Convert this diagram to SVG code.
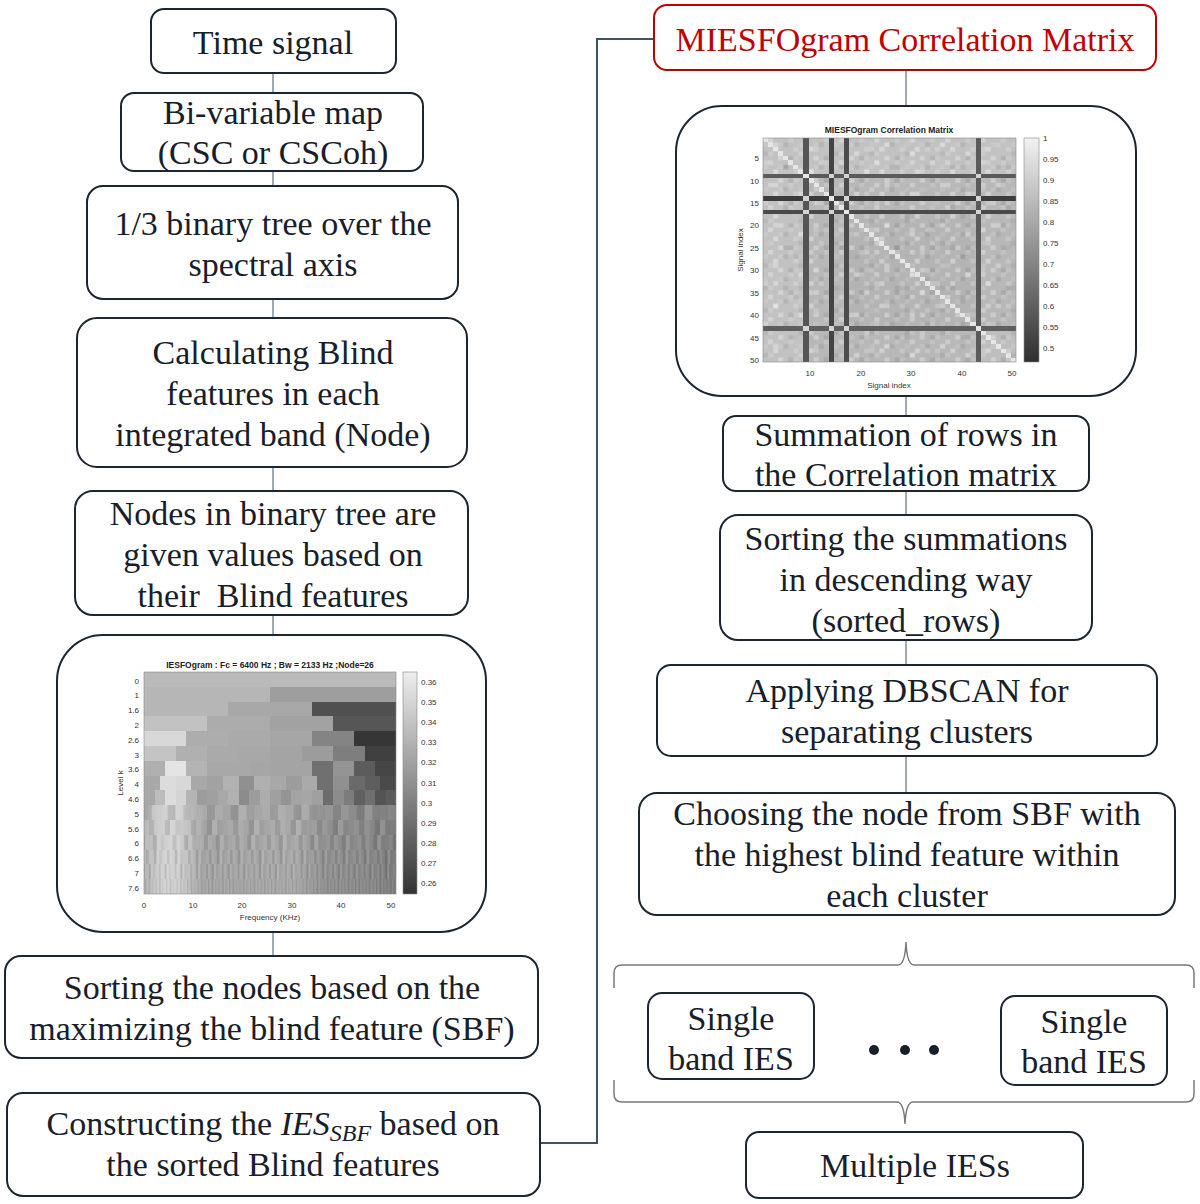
<svg xmlns="http://www.w3.org/2000/svg" width="1200" height="1204" viewBox="0 0 1200 1204">
<style>
.box{fill:#fff;stroke:#1b2631;stroke-width:2}
.t{font-family:"Liberation Serif","Times New Roman",serif;font-size:34px;fill:#17202a;text-anchor:middle}
.red{fill:#c00000}
.conn{stroke:#7f909c;stroke-width:1.5;fill:none}
.ax{font-family:"Liberation Sans",Arial,sans-serif;font-size:8px;fill:#333}
.axm{font-family:"Liberation Sans",Arial,sans-serif;font-size:8px;fill:#333;text-anchor:middle}
.axe{font-family:"Liberation Sans",Arial,sans-serif;font-size:8px;fill:#333;text-anchor:end}
.ttl{font-family:"Liberation Sans",Arial,sans-serif;font-size:8.5px;font-weight:bold;fill:#222;text-anchor:middle}
.frame{fill:none;stroke:#888;stroke-width:0.6}
.brace{fill:none;stroke:#7a7a7a;stroke-width:1.5}
</style>
<defs>
<linearGradient id="iesLow" x1="0" y1="0" x2="1" y2="0">
<stop offset="0" stop-color="#b0b0b0"/><stop offset="0.03" stop-color="#c0c0c0"/><stop offset="0.08" stop-color="#d2d2d2"/><stop offset="0.14" stop-color="#cecece"/><stop offset="0.19" stop-color="#b8b8b8"/><stop offset="0.24" stop-color="#a4a4a4"/><stop offset="0.45" stop-color="#a6a6a6"/><stop offset="0.6" stop-color="#a8a8a8"/><stop offset="0.66" stop-color="#9c9c9c"/><stop offset="0.72" stop-color="#909090"/><stop offset="0.82" stop-color="#8c8c8c"/><stop offset="0.9" stop-color="#888888"/><stop offset="1" stop-color="#7c7c7c"/>
</linearGradient>
<linearGradient id="cbIes" x1="0" y1="0" x2="0" y2="1"><stop offset="0" stop-color="#eeeeee"/><stop offset="1" stop-color="#333333"/></linearGradient>
<linearGradient id="cbCor" x1="0" y1="0" x2="0" y2="1"><stop offset="0" stop-color="#f2f2f2"/><stop offset="1" stop-color="#2e2e2e"/></linearGradient>
<pattern id="st" patternUnits="userSpaceOnUse" width="40" height="14.8">
<rect x="0" y="0" width="5" height="14.8" fill="#000" opacity="0.07"/>
<rect x="5" y="0" width="5" height="14.8" fill="#fff" opacity="0.08"/>
<rect x="15" y="0" width="5" height="14.8" fill="#000" opacity="0.11"/>
<rect x="20" y="0" width="5" height="14.8" fill="#fff" opacity="0.12"/>
<rect x="25" y="0" width="5" height="14.8" fill="#000" opacity="0.04"/>
<rect x="35" y="0" width="5" height="14.8" fill="#fff" opacity="0.06"/>
</pattern>
<pattern id="st9" href="#st" patternTransform="translate(144,805.2) scale(1.575,1)"/>
<pattern id="st10" href="#st" patternTransform="translate(149,820) scale(1.05,1)"/>
<pattern id="st11" href="#st" patternTransform="translate(141,834.8) scale(0.7875,1)"/>
<pattern id="st12" href="#st" patternTransform="translate(146,849.6) scale(0.525,1)"/>
<pattern id="st13" href="#st" patternTransform="translate(143,864.4) scale(0.394,1)"/>
<pattern id="st14" href="#st" patternTransform="translate(145,879.2) scale(0.2625,1)"/>
<pattern id="nz" patternUnits="userSpaceOnUse" x="763" y="138" width="35.42" height="22.4">
<rect x="5.06" y="0" width="5.06" height="4.48" fill="#fff" opacity="0.3"/>
<rect x="25.3" y="0" width="5.06" height="4.48" fill="#fff" opacity="0.15"/>
<rect x="20.24" y="4.48" width="5.06" height="4.48" fill="#000" opacity="0.07"/>
<rect x="0" y="4.48" width="5.06" height="4.48" fill="#fff" opacity="0.1"/>
<rect x="15.18" y="4.48" width="5.06" height="4.48" fill="#fff" opacity="0.12"/>
<rect x="10.12" y="8.96" width="5.06" height="4.48" fill="#fff" opacity="0.35"/>
<rect x="30.36" y="8.96" width="5.06" height="4.48" fill="#fff" opacity="0.2"/>
<rect x="0" y="13.44" width="5.06" height="4.48" fill="#000" opacity="0.06"/>
<rect x="5.06" y="13.44" width="5.06" height="4.48" fill="#fff" opacity="0.15"/>
<rect x="15.18" y="17.92" width="5.06" height="4.48" fill="#fff" opacity="0.3"/>
<rect x="25.3" y="17.92" width="5.06" height="4.48" fill="#000" opacity="0.08"/>
<rect x="30.36" y="17.92" width="5.06" height="4.48" fill="#fff" opacity="0.12"/>
</pattern>
<pattern id="nz2" patternUnits="userSpaceOnUse" x="763" y="138" width="55.66" height="40.32">
<rect x="10.12" y="4.48" width="5.06" height="4.48" fill="#fff" opacity="0.3"/>
<rect x="35.42" y="13.44" width="5.06" height="4.48" fill="#fff" opacity="0.35"/>
<rect x="20.24" y="26.88" width="5.06" height="4.48" fill="#000" opacity="0.08"/>
<rect x="45.54" y="31.36" width="5.06" height="4.48" fill="#fff" opacity="0.25"/>
<rect x="0" y="22.4" width="5.06" height="4.48" fill="#fff" opacity="0.2"/>
<rect x="30.36" y="35.84" width="5.06" height="4.48" fill="#000" opacity="0.06"/>
<rect x="50.6" y="8.96" width="5.06" height="4.48" fill="#fff" opacity="0.18"/>
</pattern>
</defs>
<rect width="1200" height="1204" fill="#fff"/>

<g id="connectors">
<path class="conn" d="M273,73V93M273,171V186M273,299V318M273,467V491M273,615V635M273,932V956"/>
<path class="conn" d="M906,70V106M906,396V416M906,491V515M906,640V665M906,756V793"/>
<path d="M540,1143H597V39H654" fill="none" stroke="#3d5262" stroke-width="2"/>
<path class="brace" d="M614,988V973Q614,965 622,965H898Q905,965 906,942Q907,965 914,965H1186Q1194,965 1194,973V988"/>
<path class="brace" d="M614,1080V1094Q614,1102 622,1102H897Q904,1102 905,1124Q906,1102 913,1102H1186Q1194,1102 1194,1094V1080"/>
</g>

<g id="n-time"><rect class="box" x="151" y="9" width="245" height="64" rx="13"/><text class="t" x="273" y="54">Time signal</text></g>
<g id="n-bivar"><rect class="box" x="121" y="93" width="302" height="78" rx="13"/><text class="t" x="273" y="124">Bi-variable map</text><text class="t" x="273" y="164">(CSC or CSCoh)</text></g>
<g id="n-tree"><rect class="box" x="87" y="186" width="371" height="113" rx="16"/><text class="t" x="273" y="235">1/3 binary tree over the</text><text class="t" x="273" y="276">spectral axis</text></g>
<g id="n-calc"><rect class="box" x="77" y="318" width="390" height="149" rx="20"/><text class="t" x="273" y="364">Calculating Blind</text><text class="t" x="273" y="405">features in each</text><text class="t" x="273" y="446">integrated band (Node)</text></g>
<g id="n-nodes"><rect class="box" x="75" y="491" width="393" height="124" rx="18"/><text class="t" x="273" y="525">Nodes in binary tree are</text><text class="t" x="273" y="566">given values based on</text><text class="t" x="273" y="607" xml:space="preserve">their  Blind features</text></g>

<g id="n-iesfogram">
<rect class="box" x="57" y="635" width="429" height="297" rx="46"/>
<text class="ttl" x="270" y="668">IESFOgram : Fc = 6400 Hz ; Bw = 2133 Hz ;Node=26</text>
<g shape-rendering="crispEdges">
<rect x="144" y="672" width="252" height="15" fill="#bababa"/>
<rect x="144" y="686.8" width="126.3" height="15" fill="#b6b6b6"/><rect x="270" y="686.8" width="126" height="15" fill="#9e9e9e"/>
<rect x="144" y="701.6" width="84.3" height="15" fill="#b6b6b6"/><rect x="228" y="701.6" width="84.3" height="15" fill="#a8a8a8"/><rect x="312" y="701.6" width="84" height="15" fill="#505050"/>
<rect x="144" y="716.4" width="63.3" height="15" fill="#c2c2c2"/><rect x="207" y="716.4" width="63.3" height="15" fill="#acacac"/><rect x="270" y="716.4" width="63.3" height="15" fill="#a2a2a2"/><rect x="333" y="716.4" width="63" height="15" fill="#565656"/>
<rect x="144" y="731.2" width="42.3" height="15" fill="#d8d8d8"/><rect x="186" y="731.2" width="42.3" height="15" fill="#adadad"/><rect x="228" y="731.2" width="42.3" height="15" fill="#aaaaaa"/><rect x="270" y="731.2" width="42.3" height="15" fill="#a6a6a6"/><rect x="312" y="731.2" width="42.3" height="15" fill="#848484"/><rect x="354" y="731.2" width="42" height="15" fill="#363636"/>
<rect x="144" y="746" width="31.8" height="15" fill="#c4c4c4"/><rect x="175.5" y="746" width="31.8" height="15" fill="#b0b0b0"/><rect x="207" y="746" width="31.8" height="15" fill="#aaaaaa"/><rect x="238.5" y="746" width="31.8" height="15" fill="#a8a8a8"/><rect x="270" y="746" width="31.8" height="15" fill="#a4a4a4"/><rect x="301.5" y="746" width="31.8" height="15" fill="#9c9c9c"/><rect x="333" y="746" width="31.8" height="15" fill="#7e7e7e"/><rect x="364.5" y="746" width="31.5" height="15" fill="#404040"/>
<rect x="144" y="760.8" width="21.3" height="15" fill="#b0b0b0"/><rect x="165" y="760.8" width="21.3" height="15" fill="#e4e4e4"/><rect x="186" y="760.8" width="21.3" height="15" fill="#b4b4b4"/><rect x="207" y="760.8" width="21.3" height="15" fill="#a8a8a8"/><rect x="228" y="760.8" width="21.3" height="15" fill="#a8a8a8"/><rect x="249" y="760.8" width="21.3" height="15" fill="#a6a6a6"/><rect x="270" y="760.8" width="21.3" height="15" fill="#a4a4a4"/><rect x="291" y="760.8" width="21.3" height="15" fill="#a4a4a4"/><rect x="312" y="760.8" width="21.3" height="15" fill="#707070"/><rect x="333" y="760.8" width="21.3" height="15" fill="#949494"/><rect x="354" y="760.8" width="21.3" height="15" fill="#5c5c5c"/><rect x="375" y="760.8" width="21" height="15" fill="#464646"/>
<rect x="144" y="775.6" width="16" height="15" fill="#a8a8a8"/><rect x="159.75" y="775.6" width="16" height="15" fill="#dcdcdc"/><rect x="175.5" y="775.6" width="16" height="15" fill="#d8d8d8"/><rect x="191.25" y="775.6" width="16" height="15" fill="#a8a8a8"/><rect x="207" y="775.6" width="16" height="15" fill="#a2a2a2"/><rect x="222.75" y="775.6" width="16" height="15" fill="#b2b2b2"/><rect x="238.5" y="775.6" width="16" height="15" fill="#909090"/><rect x="254.25" y="775.6" width="16" height="15" fill="#b0b0b0"/><rect x="270" y="775.6" width="16" height="15" fill="#a8a8a8"/><rect x="285.75" y="775.6" width="16" height="15" fill="#9c9c9c"/><rect x="301.5" y="775.6" width="16" height="15" fill="#aaaaaa"/><rect x="317.25" y="775.6" width="16" height="15" fill="#707070"/><rect x="333" y="775.6" width="16" height="15" fill="#909090"/><rect x="348.75" y="775.6" width="16" height="15" fill="#6a6a6a"/><rect x="364.5" y="775.6" width="16" height="15" fill="#5e5e5e"/><rect x="380.25" y="775.6" width="15.75" height="15" fill="#4a4a4a"/>
<rect x="144" y="790.4" width="10.8" height="15" fill="#a8a8a8"/><rect x="154.5" y="790.4" width="10.8" height="15" fill="#bcbcbc"/><rect x="165" y="790.4" width="10.8" height="15" fill="#dcdcdc"/><rect x="175.5" y="790.4" width="10.8" height="15" fill="#d4d4d4"/><rect x="186" y="790.4" width="10.8" height="15" fill="#b4b4b4"/><rect x="196.5" y="790.4" width="10.8" height="15" fill="#9c9c9c"/><rect x="207" y="790.4" width="10.8" height="15" fill="#a0a0a0"/><rect x="217.5" y="790.4" width="10.8" height="15" fill="#a8a8a8"/><rect x="228" y="790.4" width="10.8" height="15" fill="#b0b0b0"/><rect x="238.5" y="790.4" width="10.8" height="15" fill="#8c8c8c"/><rect x="249" y="790.4" width="10.8" height="15" fill="#9c9c9c"/><rect x="259.5" y="790.4" width="10.8" height="15" fill="#acacac"/><rect x="270" y="790.4" width="10.8" height="15" fill="#a0a0a0"/><rect x="280.5" y="790.4" width="10.8" height="15" fill="#949494"/><rect x="291" y="790.4" width="10.8" height="15" fill="#a4a4a4"/><rect x="301.5" y="790.4" width="10.8" height="15" fill="#a6a6a6"/><rect x="312" y="790.4" width="10.8" height="15" fill="#a0a0a0"/><rect x="322.5" y="790.4" width="10.8" height="15" fill="#6c6c6c"/><rect x="333" y="790.4" width="10.8" height="15" fill="#8c8c8c"/><rect x="343.5" y="790.4" width="10.8" height="15" fill="#7c7c7c"/><rect x="354" y="790.4" width="10.8" height="15" fill="#606060"/><rect x="364.5" y="790.4" width="10.8" height="15" fill="#707070"/><rect x="375" y="790.4" width="10.8" height="15" fill="#545454"/><rect x="385.5" y="790.4" width="10.5" height="15" fill="#5c5c5c"/>
<rect x="144" y="805.2" width="252" height="88.8" fill="url(#iesLow)"/>
<rect x="144" y="805.2" width="252" height="14.8" fill="url(#st9)"/>
<rect x="144" y="820" width="252" height="14.8" fill="url(#st10)"/>
<rect x="144" y="834.8" width="252" height="14.8" fill="url(#st11)"/>
<rect x="144" y="849.6" width="252" height="14.8" fill="url(#st12)"/>
<rect x="144" y="864.4" width="252" height="14.8" fill="url(#st13)"/>
<rect x="144" y="879.2" width="252" height="14.8" fill="url(#st14)"/>
</g>
<rect class="frame" x="144" y="672" width="252" height="222"/>
<rect x="403" y="672" width="14" height="222" fill="url(#cbIes)"/>
<rect class="frame" x="403" y="672" width="14" height="222"/>
<text class="axe" x="139" y="683.5">0</text><text class="axe" x="139" y="698.3">1</text><text class="axe" x="139" y="713.1">1.6</text><text class="axe" x="139" y="727.9">2</text><text class="axe" x="139" y="742.7">2.6</text><text class="axe" x="139" y="757.5">3</text><text class="axe" x="139" y="772.3">3.6</text><text class="axe" x="139" y="787.1">4</text><text class="axe" x="139" y="801.9">4.6</text><text class="axe" x="139" y="816.7">5</text><text class="axe" x="139" y="831.5">5.6</text><text class="axe" x="139" y="846.3">6</text><text class="axe" x="139" y="861.1">6.6</text><text class="axe" x="139" y="875.9">7</text><text class="axe" x="139" y="890.7">7.6</text>
<text class="axm" transform="translate(123,783) rotate(-90)">Level k</text>
<text class="axm" x="144" y="908">0</text><text class="axm" x="193" y="908">10</text><text class="axm" x="242" y="908">20</text><text class="axm" x="292" y="908">30</text><text class="axm" x="341" y="908">40</text><text class="axm" x="391" y="908">50</text>
<text class="axm" x="270" y="920">Frequency (KHz)</text>
<text class="ax" x="421" y="685">0.36</text><text class="ax" x="421" y="705">0.35</text><text class="ax" x="421" y="725">0.34</text><text class="ax" x="421" y="745">0.33</text><text class="ax" x="421" y="765">0.32</text><text class="ax" x="421" y="786">0.31</text><text class="ax" x="421" y="806">0.3</text><text class="ax" x="421" y="826">0.29</text><text class="ax" x="421" y="846">0.28</text><text class="ax" x="421" y="866">0.27</text><text class="ax" x="421" y="886">0.26</text>
</g>

<g id="n-sbf"><rect class="box" x="5" y="956" width="533" height="102" rx="16"/><text class="t" x="272" y="999">Sorting the nodes based on the</text><text class="t" x="272" y="1040">maximizing the blind feature (SBF)</text></g>
<g id="n-construct"><rect class="box" x="7" y="1093" width="533" height="103" rx="16"/><text class="t" x="273" y="1135">Constructing the <tspan font-style="italic">IES</tspan><tspan font-style="italic" font-size="24" dy="6">SBF</tspan><tspan dy="-6"> based on</tspan></text><text class="t" x="273" y="1176">the sorted Blind features</text></g>

<g id="n-miesfo"><rect class="box" x="654" y="5" width="502" height="65" rx="13" style="stroke:#c00000"/><text class="t red" x="905" y="51">MIESFOgram Correlation Matrix</text></g>

<g id="n-corr">
<rect class="box" x="676" y="106" width="460" height="290" rx="46"/>
<text class="ttl" x="889" y="133">MIESFOgram Correlation Matrix</text>
<g shape-rendering="crispEdges">
<rect x="763" y="138" width="253" height="224" fill="#b8b8b8"/>
<rect x="763" y="138" width="40.5" height="224" fill="#c2c2c2"/>
<rect x="763" y="138" width="253" height="35.8" fill="#c2c2c2"/>
<rect x="848.5" y="214" width="127" height="112" fill="#b4b4b4"/>
<rect x="980" y="330" width="36" height="32" fill="#bebebe"/>
<rect x="763" y="138" width="253" height="224" fill="url(#nz)"/>
<rect x="763" y="138" width="253" height="224" fill="url(#nz2)"/>
<rect x="763" y="173.84" width="253" height="4.48" fill="#5a5a5a"/>
<rect x="763" y="196.24" width="253" height="4.48" fill="#3c3c3c"/>
<rect x="763" y="209.68" width="253" height="4.48" fill="#4a4a4a"/>
<rect x="763" y="326.16" width="253" height="4.48" fill="#5e5e5e"/>
<rect x="803.48" y="138" width="5.06" height="224" fill="#555555"/>
<rect x="828.78" y="138" width="5.06" height="224" fill="#444444"/>
<rect x="843.96" y="138" width="5.06" height="224" fill="#4c4c4c"/>
<rect x="975.52" y="138" width="5.06" height="224" fill="#5a5a5a"/>
<g fill="#d4d4d4">
<rect x="803.48" y="173.84" width="5.06" height="4.48"/><rect x="828.78" y="173.84" width="5.06" height="4.48"/><rect x="843.96" y="173.84" width="5.06" height="4.48"/><rect x="975.52" y="173.84" width="5.06" height="4.48"/>
<rect x="803.48" y="196.24" width="5.06" height="4.48"/><rect x="828.78" y="196.24" width="5.06" height="4.48"/><rect x="843.96" y="196.24" width="5.06" height="4.48"/><rect x="975.52" y="196.24" width="5.06" height="4.48"/>
<rect x="803.48" y="209.68" width="5.06" height="4.48"/><rect x="828.78" y="209.68" width="5.06" height="4.48"/><rect x="843.96" y="209.68" width="5.06" height="4.48"/><rect x="975.52" y="209.68" width="5.06" height="4.48"/>
<rect x="803.48" y="326.16" width="5.06" height="4.48"/><rect x="828.78" y="326.16" width="5.06" height="4.48"/><rect x="843.96" y="326.16" width="5.06" height="4.48"/><rect x="975.52" y="326.16" width="5.06" height="4.48"/>
</g>
<path fill="#e6e6e6" d="M763,138h5.06v4.48h-5.06z m5.06,4.48h5.06v4.48h-5.06z m5.06,4.48h5.06v4.48h-5.06z m5.06,4.48h5.06v4.48h-5.06z m5.06,4.48h5.06v4.48h-5.06z m5.06,4.48h5.06v4.48h-5.06z m5.06,4.48h5.06v4.48h-5.06z m5.06,4.48h5.06v4.48h-5.06z m5.06,4.48h5.06v4.48h-5.06z m5.06,4.48h5.06v4.48h-5.06z m5.06,4.48h5.06v4.48h-5.06z m5.06,4.48h5.06v4.48h-5.06z m5.06,4.48h5.06v4.48h-5.06z m5.06,4.48h5.06v4.48h-5.06z m5.06,4.48h5.06v4.48h-5.06z m5.06,4.48h5.06v4.48h-5.06z m5.06,4.48h5.06v4.48h-5.06z m5.06,4.48h5.06v4.48h-5.06z m5.06,4.48h5.06v4.48h-5.06z m5.06,4.48h5.06v4.48h-5.06z m5.06,4.48h5.06v4.48h-5.06z m5.06,4.48h5.06v4.48h-5.06z m5.06,4.48h5.06v4.48h-5.06z m5.06,4.48h5.06v4.48h-5.06z m5.06,4.48h5.06v4.48h-5.06z m5.06,4.48h5.06v4.48h-5.06z m5.06,4.48h5.06v4.48h-5.06z m5.06,4.48h5.06v4.48h-5.06z m5.06,4.48h5.06v4.48h-5.06z m5.06,4.48h5.06v4.48h-5.06z m5.06,4.48h5.06v4.48h-5.06z m5.06,4.48h5.06v4.48h-5.06z m5.06,4.48h5.06v4.48h-5.06z m5.06,4.48h5.06v4.48h-5.06z m5.06,4.48h5.06v4.48h-5.06z m5.06,4.48h5.06v4.48h-5.06z m5.06,4.48h5.06v4.48h-5.06z m5.06,4.48h5.06v4.48h-5.06z m5.06,4.48h5.06v4.48h-5.06z m5.06,4.48h5.06v4.48h-5.06z m5.06,4.48h5.06v4.48h-5.06z m5.06,4.48h5.06v4.48h-5.06z m5.06,4.48h5.06v4.48h-5.06z m5.06,4.48h5.06v4.48h-5.06z m5.06,4.48h5.06v4.48h-5.06z m5.06,4.48h5.06v4.48h-5.06z m5.06,4.48h5.06v4.48h-5.06z m5.06,4.48h5.06v4.48h-5.06z m5.06,4.48h5.06v4.48h-5.06z m5.06,4.48h5.06v4.48h-5.06z"/>
</g>
<rect class="frame" x="763" y="138" width="253" height="224"/>
<rect x="1024" y="138" width="15" height="224" fill="url(#cbCor)"/>
<rect class="frame" x="1024" y="138" width="15" height="224"/>
<text class="axe" x="759" y="161">5</text><text class="axe" x="759" y="183.5">10</text><text class="axe" x="759" y="206">15</text><text class="axe" x="759" y="228">20</text><text class="axe" x="759" y="251">25</text><text class="axe" x="759" y="273">30</text><text class="axe" x="759" y="296">35</text><text class="axe" x="759" y="318">40</text><text class="axe" x="759" y="340.5">45</text><text class="axe" x="759" y="363">50</text>
<text class="axm" transform="translate(743,250) rotate(-90)">Signal index</text>
<text class="axm" x="810" y="376">10</text><text class="axm" x="861" y="376">20</text><text class="axm" x="911" y="376">30</text><text class="axm" x="962" y="376">40</text><text class="axm" x="1012" y="376">50</text>
<text class="axm" x="889" y="388">Signal index</text>
<text class="ax" x="1043" y="141">1</text><text class="ax" x="1043" y="162">0.95</text><text class="ax" x="1043" y="183">0.9</text><text class="ax" x="1043" y="204">0.85</text><text class="ax" x="1043" y="225">0.8</text><text class="ax" x="1043" y="246">0.75</text><text class="ax" x="1043" y="267">0.7</text><text class="ax" x="1043" y="288">0.65</text><text class="ax" x="1043" y="309">0.6</text><text class="ax" x="1043" y="330">0.55</text><text class="ax" x="1043" y="351">0.5</text>
</g>

<g id="n-sum"><rect class="box" x="723" y="416" width="366" height="75" rx="13"/><text class="t" x="906" y="446">Summation of rows in</text><text class="t" x="906" y="486">the Correlation matrix</text></g>
<g id="n-sortsum"><rect class="box" x="720" y="515" width="372" height="125" rx="18"/><text class="t" x="906" y="550">Sorting the summations</text><text class="t" x="906" y="591">in descending way</text><text class="t" x="906" y="632">(sorted_rows)</text></g>
<g id="n-dbscan"><rect class="box" x="657" y="665" width="500" height="91" rx="14"/><text class="t" x="907" y="702">Applying DBSCAN for</text><text class="t" x="907" y="743">separating clusters</text></g>
<g id="n-choose"><rect class="box" x="639" y="793" width="536" height="122" rx="18"/><text class="t" x="907" y="825">Choosing the node from SBF with</text><text class="t" x="907" y="866">the highest blind feature within</text><text class="t" x="907" y="907">each cluster</text></g>
<g id="n-single1"><rect class="box" x="648" y="993" width="166" height="86" rx="14"/><text class="t" x="731" y="1030">Single</text><text class="t" x="731" y="1070">band IES</text></g>
<g id="n-dots" fill="#17202a"><circle cx="874" cy="1050" r="5"/><circle cx="905" cy="1050" r="5"/><circle cx="934" cy="1050" r="5"/></g>
<g id="n-single2"><rect class="box" x="1001" y="996" width="166" height="89" rx="14"/><text class="t" x="1084" y="1033">Single</text><text class="t" x="1084" y="1073">band IES</text></g>
<g id="n-multi"><rect class="box" x="746" y="1132" width="337" height="66" rx="13"/><text class="t" x="915" y="1177">Multiple IESs</text></g>
</svg>
